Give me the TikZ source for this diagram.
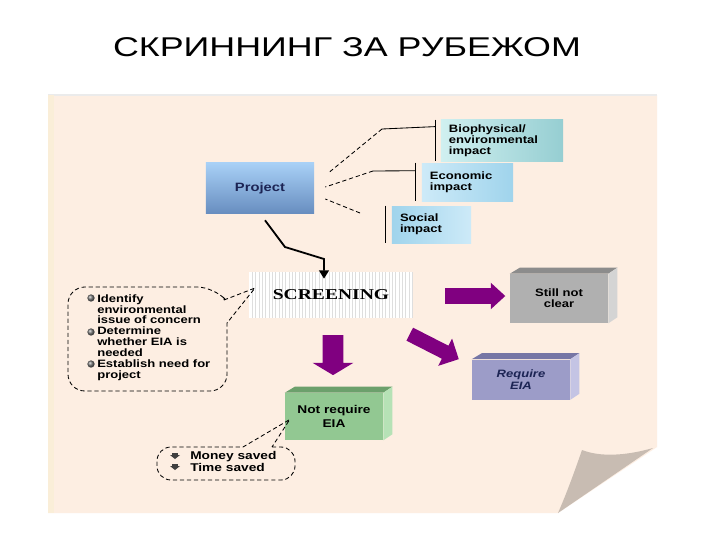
\documentclass[tikz,border=0pt]{standalone}
\usepackage{fontspec}
\setmainfont{Liberation Sans}
\newfontfamily\titlefont[FakeStretch=1.32]{Liberation Sans}
\newfontfamily\labelfont[FakeStretch=1.22]{Liberation Sans}
\newfontfamily\stampfont[FakeStretch=1.3]{Liberation Serif}
\usetikzlibrary{calc,shapes.arrows,arrows.meta}

\definecolor{paper}{RGB}{253,238,226}
\definecolor{paperedge}{RGB}{250,238,216}
\definecolor{curl}{RGB}{200,188,178}
\definecolor{projlight}{RGB}{168,208,246}
\definecolor{projdark}{RGB}{104,142,192}
\definecolor{tealL}{RGB}{208,240,240}
\definecolor{tealR}{RGB}{150,206,210}
\definecolor{skyL}{RGB}{205,234,248}
\definecolor{skyR}{RGB}{160,212,236}
\definecolor{plum}{RGB}{128,0,128}
\definecolor{greyF}{RGB}{176,176,176}
\definecolor{greyT}{RGB}{140,140,140}
\definecolor{greyS}{RGB}{212,212,212}
\definecolor{lilacF}{RGB}{156,156,200}
\definecolor{lilacT}{RGB}{118,118,165}
\definecolor{lilacS}{RGB}{196,196,228}
\definecolor{mintF}{RGB}{146,200,146}
\definecolor{mintT}{RGB}{108,160,108}
\definecolor{mintS}{RGB}{182,226,182}
\definecolor{navy}{RGB}{28,36,84}

\tikzset{
	lbl/.style={font=\labelfont\bfseries\fontsize{7.6}{7.8}\selectfont},
	impactbox/.style={lbl, align=left, inner xsep=0.2cm, minimum height=0.925cm},
	cubefront/.style={lbl, align=center, inner sep=0pt},
	bigarrow/.style={single arrow, fill=plum, inner xsep=0pt},
	thinline/.style={line width=0.6pt},
	dashline/.style={line width=0.6pt, dash pattern=on 3pt off 2pt}
}

% top and right faces of a box, drawn from the front node
\def\boxsides(#1)#2#3{%
	\fill[#2] (#1.north west) -- ++(10,-6) -- ($(#1.north east)+(9,-6)$) -- (#1.north east) -- cycle;
	\fill[#3] (#1.north east) -- ++(9,-6) -- ($(#1.south east)+(9,-6)$) -- (#1.south east) -- cycle;}

\begin{document}
\begin{tikzpicture}[x=0.025cm, y=-0.025cm]
		%%%%% START %%%%%
		\useasboundingbox (0,0) rectangle (720,540);
		\fill[white] (0,0) rectangle (720,540);
		
		\node[font=\titlefont\fontsize{19.3}{22}\selectfont] (title) at (347,47) {СКРИННИНГ ЗА РУБЕЖОМ};
		
		% paper with curled corner
		\fill[paper] (48,95) -- (657,95) -- (657,447) -- (558,513) -- (48,513) -- cycle;
		\draw[black!8, line width=0.8pt] (48,95) -- (657,95);
		\fill[paperedge] (48,95) rectangle (54,513);
		\fill[curl] (582,450) .. controls (600,457) and (625,456) .. (653,448) -- (558,513) .. controls (568,490) and (575,470) .. (582,450) -- cycle;
		
		% project and impacts
		\node[lbl, font=\labelfont\bfseries\fontsize{8.6}{9}\selectfont, text=navy, top color=projlight, bottom color=projdark, minimum width=2.7cm, minimum height=1.25cm] (project) at (260,188) {Project};
		
		\node[impactbox, left color=tealL, right color=tealR, minimum width=3.05cm, text width=2.65cm] (bio) at (502,140.5) {Biophysical/\\environmental\\impact};
		\node[impactbox, left color=skyL, right color=skyR, minimum width=2.275cm, minimum height=0.95cm, text width=1.875cm] (econ) at (467.5,182) {Economic\\impact\\[2pt]};
		\node[impactbox, left color=skyR, right color=skyL, minimum width=1.975cm, text width=1.575cm] (social) at (431.5,224.5) {Social\\impact\\[2pt]};
		
		\coordinate (bioknee) at (382,129);
		\coordinate (econknee) at (373,171);
		\coordinate (socialend) at (360,213);
		
		\draw[thinline] ($(bio.north west)+(-5,0)$) -- ($(bio.south west)+(-5,0)$);
		\draw[thinline] ($(bio.north west)+(-5,7)$) -- (bioknee);
		\draw[dashline] (bioknee) -- ($(project.east)+(14,-15)$);
		
		\draw[thinline] ($(econ.north west)+(-6,0)$) -- ($(econ.south west)+(-6,0)$);
		\draw[thinline] ($(econ.north west)+(-6,8)$) -- (econknee);
		\draw[dashline] (econknee) -- ($(project.east)+(11,-1)$);
		
		\draw[thinline] ($(social.north west)+(-6,0)$) -- ($(social.south west)+(-6,0)$);
		\draw[dashline] (socialend) -- ($(project.east)+(11,11)$);
		
		% screening
		\node[fill=white, minimum width=4.1cm, minimum height=1.15cm,
			path picture={\foreach \i in {1,...,49} \draw[black!13, line width=0.4pt] ($(path picture bounding box.north west)+(\i*3.33,0)$) -- ++(0,46);},
			font=\stampfont\bfseries\fontsize{10.7}{12}\selectfont] (screen) at (331,295) {SCREENING};
		
		\draw[line width=1.3pt, -{Triangle[length=6pt,width=7pt]}] ($(project.south)+(5,7)$) -- (285,247) -- (324,259) -- ($(screen.north)+(-7,7)$);
		
		% outcomes
		\node[cubefront, fill=greyF, minimum width=2.45cm, minimum height=1.225cm] (unclear) at (559,298.5) {Still not\\clear};
		\boxsides(unclear){greyT}{greyS}
		\node[cubefront, fill=lilacF, text=navy, minimum width=2.45cm, minimum height=1.0cm, font=\labelfont\bfseries\itshape\fontsize{7.6}{9}\selectfont] (require) at (521,379.5) {Require\\EIA};
		\boxsides(require){lilacT}{lilacS}
		\node[cubefront, fill=mintF, minimum width=2.45cm, minimum height=1.175cm, font=\labelfont\bfseries\fontsize{8}{10}\selectfont] (notrequire) at (334,416.5) {Not require\\EIA};
		\boxsides(notrequire){mintT}{mintS}
		
		\node[bigarrow, minimum height=1.5cm, inner ysep=0.1875cm, single arrow head extend=0.1375cm, single arrow tip angle=85] (toclear) at (471,296) {};
		\node[bigarrow, minimum height=1.0cm, inner ysep=0.25cm, single arrow head extend=0.25cm, single arrow tip angle=118, rotate=-90] (tonot) at (333,352) {};
		\node[bigarrow, minimum height=1.375cm, inner ysep=0.175cm, single arrow head extend=0.2cm, single arrow tip angle=90, rotate=-27] (toreq) at (431,345) {};
		
		% left note
		\draw[dashline] (224,300) -- (255,288) -- (227,323) [rounded corners=12] -- (227,391) -- (68,391) -- (68,287) -- (214,287) [sharp corners] -- (224,298) -- cycle;
		\node[lbl, align=left, anchor=north west, inner sep=0pt] (tasks) at (97,294) {Identify\\environmental\\issue of concern\\Determine\\whether EIA is\\needed\\Establish need for\\project};
		\foreach \y in {298,332,364}
			\shade[ball color=black!55] (91,\y) circle (2.6pt);
		
		% bottom note
		\draw[dashline] (272,447) [rounded corners=10] -- (295,447) -- (295,480) -- (157,480) -- (157,447) [sharp corners] -- (243,447) -- ($(notrequire.west)+(5,3)$) -- cycle;
		\node[lbl, align=left, anchor=north west, inner sep=0pt, font=\labelfont\bfseries\fontsize{8}{8}\selectfont] (savings) at (190,451.5) {Money saved\\Time saved};
		\foreach \y in {456,467} {
			\fill[black!75] (170,\y-1) -- (180,\y-1) -- (175,\y+3) -- cycle;
			\fill[black!75] (172,\y-3) rectangle (178,\y-1);
		}
		%%%%% END %%%%%
\end{tikzpicture}
\end{document}
